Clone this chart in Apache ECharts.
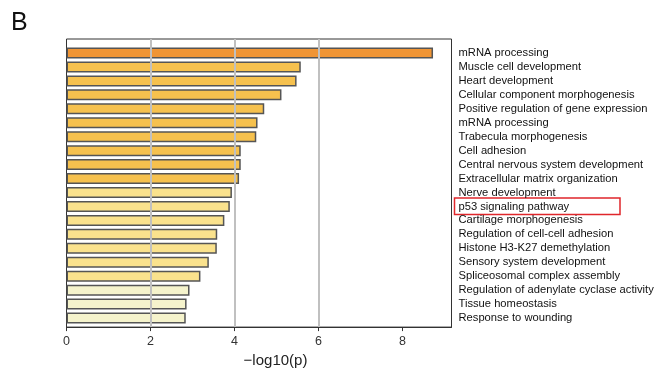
<!DOCTYPE html>
<html>
<head>
<meta charset="utf-8">
<script src="https://cdn.jsdelivr.net/npm/echarts@6/dist/echarts.min.js"></script>
<style>html,body{margin:0;padding:0;background:#fff}#c{width:671px;height:373px}</style>
</head>
<body>
<div id="c"></div>
<script>
const categories = [
  'mRNA processing',
  'Muscle cell development',
  'Heart development',
  'Cellular component morphogenesis',
  'Positive regulation of gene expression',
  'mRNA processing',
  'Trabecula morphogenesis',
  'Cell adhesion',
  'Central nervous system development',
  'Extracellular matrix organization',
  'Nerve development',
  'p53 signaling pathway',
  'Cartilage morphogenesis',
  'Regulation of cell-cell adhesion',
  'Histone H3-K27 demethylation',
  'Sensory system development',
  'Spliceosomal complex assembly',
  'Regulation of adenylate cyclase activity',
  'Tissue homeostasis',
  'Response to wounding'
];
const values = [8.73, 5.58, 5.48, 5.12, 4.71, 4.55, 4.52, 4.15, 4.15, 4.11,
                3.94, 3.89, 3.76, 3.59, 3.58, 3.39, 3.19, 2.93, 2.86, 2.84];
const colorGroup = [0, 1, 1, 1, 1, 1, 1, 1, 1, 1, 2, 2, 2, 2, 2, 2, 2, 3, 3, 3];
const palette = ['#F09535', '#F6C14E', '#FAE28D', '#F5F3CC'];
const xTicks = [0, 2, 4, 6, 8];
const gridLines = [2, 4, 6];
const xMax = 9.17;
const highlighted = 'p53 signaling pathway';

const chart = echarts.init(document.getElementById('c'), null, {renderer: 'canvas'});
const L = 66.5, R = 671 - 451.5;
chart.setOption({
  animation: false,
  title: {text: 'B', left: 11, top: 11, padding: 0,
    textStyle: {fontFamily: 'Liberation Sans', fontSize: 25, fontWeight: 'normal', color: '#111'}},
  grid: [
    {left: L, right: R, top: 39, bottom: 42, show: true, borderColor: '#333', borderWidth: 1, containLabel: false},
    {left: L, right: R, top: 46, bottom: 48, containLabel: false}
  ],
  xAxis: [
    {gridIndex: 0, type: 'value', min: 0, max: xMax, interval: 2,
     name: '\u2212log10(p)', nameLocation: 'middle', nameGap: 21,
     nameTextStyle: {fontFamily: 'Liberation Sans', fontSize: 15, color: '#222', padding: [0, 0, 0, 33]},
     axisLine: {show: true, lineStyle: {color: '#333', width: 1}},
     axisTick: {show: true, length: 4, customValues: xTicks, lineStyle: {color: '#333'}},
     axisLabel: {fontFamily: 'Liberation Sans', fontSize: 12.5, color: '#333', margin: 8, customValues: xTicks,
       formatter: v => xTicks.includes(v) ? String(v) : ''},
     splitLine: {show: false}},
    {gridIndex: 1, type: 'value', min: 0, max: xMax, show: false, splitLine: {show: false}}
  ],
  yAxis: [
    {gridIndex: 0, type: 'value', min: 0, max: 1, show: false, splitLine: {show: false}},
    {gridIndex: 1, type: 'category', data: categories, inverse: true, position: 'right',
     axisLine: {show: false}, axisTick: {show: false},
     axisLabel: {interval: 0, align: 'left', margin: 7, fontFamily: 'Liberation Sans', fontSize: 11.2, color: '#111'},
     splitLine: {show: false}}
  ],
  series: [
    {type: 'line', xAxisIndex: 0, yAxisIndex: 0, data: [], z: 1, silent: true,
     markLine: {silent: true, symbol: 'none', label: {show: false},
       lineStyle: {color: '#c0c0c0', width: 2, type: 'solid'},
       data: gridLines.map(v => ({xAxis: v}))}},
    {type: 'bar', xAxisIndex: 1, yAxisIndex: 1, barWidth: 11, z: 3,
     data: values.map((v, i) => ({value: v, itemStyle: {color: palette[colorGroup[i]]}})),
     itemStyle: {borderColor: '#555', borderWidth: 1.5}}
  ]
});
// red highlight box around the highlighted label
const idx = categories.indexOf(highlighted);
const yc = chart.convertToPixel({xAxisIndex: 1, yAxisIndex: 1}, [0, idx])[1];
chart.setOption({graphic: [{type: 'rect', shape: {x: 454.5, y: yc - 8.5, width: 165.5, height: 16.5},
  style: {fill: 'none', stroke: '#e0262b', lineWidth: 1.5}}]});
</script>
</body>
</html>
